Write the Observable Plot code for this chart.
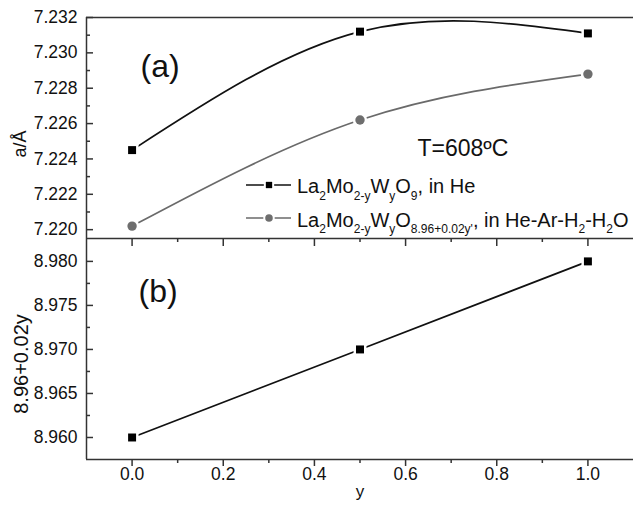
<!DOCTYPE html>
<html><head><meta charset="utf-8">
<script src="https://cdn.jsdelivr.net/npm/d3@7"></script>
<script src="https://cdn.jsdelivr.net/npm/@observablehq/plot@0.6"></script>
<style>
body{margin:0;background:#fff;}
#chart{position:relative;width:633px;height:508px;font-family:"Liberation Sans",Arial,sans-serif;}
#chart svg{position:absolute;left:0;overflow:visible;}
</style></head><body><div id="chart"></div>
<script>
// ---- data ----
const yComposition = [0.0, 0.5, 1.0];
const latticeHe = [7.2245, 7.2312, 7.2311];      // La2Mo2-yWyO9, in He
const latticeWet = [7.2202, 7.2262, 7.2288];     // La2Mo2-yWyO8.96+0.02y, in He-Ar-H2-H2O
const oxygenContent = [8.960, 8.970, 8.980];     // 8.96+0.02y
const xDomain = [-0.1, 1.1];
const aDomain = [7.2195, 7.232];
const bDomain = [8.9575, 8.9826];
const xTicks = [0.0, 0.2, 0.4, 0.6, 0.8, 1.0];
const xMinorTicks = [0.1, 0.3, 0.5, 0.7, 0.9];
const aTicks = [7.220, 7.222, 7.224, 7.226, 7.228, 7.230, 7.232];
const aMinorTicks = [7.221, 7.223, 7.225, 7.227, 7.229, 7.231];
const bTicks = [8.960, 8.965, 8.970, 8.975, 8.980];
const bMinorTicks = [8.9625, 8.9675, 8.9725, 8.9775];
const seriesNames = ["La2Mo2-yWyO9, in He", "La2Mo2-yWyO8.96+0.02y', in He-Ar-H2-H2O"];

const heRows = yComposition.map((x, i) => ({x, v: latticeHe[i]}));
const wetRows = yComposition.map((x, i) => ({x, v: latticeWet[i]}));
const oxRows = yComposition.map((x, i) => ({x, v: oxygenContent[i]}));

const FONT = '"Liberation Sans", Arial, sans-serif';
const AX = "#333";
const BLANK = () => "";

const chart = document.getElementById("chart");

// ---- panel (a) ----
const topPlot = Plot.plot({
  width: 633, height: 246,
  marginLeft: 86, marginRight: 0, marginTop: 17, marginBottom: 8,
  style: {fontFamily: FONT, fontSize: "17.5px", color: "#111", background: "transparent", overflow: "visible"},
  x: {domain: xDomain},
  y: {domain: aDomain},
  marks: [
    Plot.ruleY([aDomain[1]], {stroke: AX, strokeWidth: 1.5}),
    Plot.ruleY([aDomain[0]], {stroke: AX, strokeWidth: 1.5}),
    Plot.ruleX([xDomain[0]], {stroke: AX, strokeWidth: 1.5}),
    Plot.axisY(aTicks, {tickSize: 0, tickPadding: 9, tickFormat: d3.format(".3f"), label: null}),
    Plot.axisY(aTicks, {tickSize: -7, tickFormat: BLANK, label: null, stroke: AX, strokeWidth: 1.5}),
    Plot.axisY(aMinorTicks, {tickSize: -4, tickFormat: BLANK, label: null, stroke: AX, strokeWidth: 1.5}),
    Plot.axisX(xTicks, {tickSize: 8, tickFormat: BLANK, label: null, stroke: AX, strokeWidth: 1.5}),
    Plot.axisX(xMinorTicks, {tickSize: 4, tickFormat: BLANK, label: null, stroke: AX, strokeWidth: 1.5}),
    Plot.line(heRows, {x: "x", y: "v", curve: "natural", stroke: "#111", strokeWidth: 1.7}),
    Plot.line(wetRows, {x: "x", y: "v", curve: "natural", stroke: "#6a6a6a", strokeWidth: 1.7}),
    Plot.dot(heRows, {x: "x", y: "v", symbol: "square", r: 4.5, fill: "#000", stroke: "#fff", strokeWidth: 5, paintOrder: "stroke"}),
    Plot.dot(wetRows, {x: "x", y: "v", symbol: "circle", r: 4.7, fill: "#6e6e6e", stroke: "#fff", strokeWidth: 5, paintOrder: "stroke"}),
    Plot.text(["(a)"], {frameAnchor: "top-left", dx: 54, dy: 49, fontSize: 32, textAnchor: "start", lineAnchor: "middle", fill: "#111"}),
    Plot.text(["T=608ºC"], {frameAnchor: "top-left", dx: 331, dy: 131, fontSize: 23, textAnchor: "start", lineAnchor: "middle", fill: "#111"}),
    Plot.text(["a/Å"], {frameAnchor: "left", dx: -66, dy: 16, rotate: -90, fontSize: 18, textAnchor: "middle", lineAnchor: "middle", fill: "#111"})
  ]
});
topPlot.style.top = "0px";
chart.appendChild(topPlot);

// ---- panel (b) ----
const bottomPlot = Plot.plot({
  width: 633, height: 270,
  marginLeft: 86, marginRight: 0, marginTop: 0, marginBottom: 49,
  style: {fontFamily: FONT, fontSize: "17.5px", color: "#111", background: "transparent", overflow: "visible"},
  x: {domain: xDomain},
  y: {domain: bDomain},
  marks: [
    Plot.ruleY([bDomain[0]], {stroke: AX, strokeWidth: 1.5}),
    Plot.ruleX([xDomain[0]], {stroke: AX, strokeWidth: 1.5}),
    Plot.axisY(bTicks, {tickSize: 0, tickPadding: 9, tickFormat: d3.format(".3f"), label: null}),
    Plot.axisY(bTicks, {tickSize: -7, tickFormat: BLANK, label: null, stroke: AX, strokeWidth: 1.5}),
    Plot.axisY(bMinorTicks, {tickSize: -4, tickFormat: BLANK, label: null, stroke: AX, strokeWidth: 1.5}),
    Plot.axisX(xTicks, {tickSize: 7, tickPadding: 1, tickFormat: d3.format(".1f"), label: null, stroke: AX, strokeWidth: 1.5}),
    Plot.axisX(xMinorTicks, {tickSize: 4, tickFormat: BLANK, label: null, stroke: AX, strokeWidth: 1.5}),
    Plot.line(oxRows, {x: "x", y: "v", stroke: "#111", strokeWidth: 1.7}),
    Plot.dot(oxRows, {x: "x", y: "v", symbol: "square", r: 4.5, fill: "#000", stroke: "#fff", strokeWidth: 5, paintOrder: "stroke"}),
    Plot.text(["(b)"], {frameAnchor: "top-left", dx: 52, dy: 53, fontSize: 32, textAnchor: "start", lineAnchor: "middle", fill: "#111"}),
    Plot.text(["8.96+0.02y"], {frameAnchor: "left", dx: -65, dy: 15, rotate: -90, fontSize: 20, textAnchor: "middle", lineAnchor: "middle", fill: "#111"}),
    Plot.text(["y"], {frameAnchor: "bottom", dy: 32, fontSize: 17, textAnchor: "middle", lineAnchor: "middle", fill: "#111"})
  ]
});
bottomPlot.style.top = "238px";
chart.appendChild(bottomPlot);

// ---- legend (with subscripts) ----
const legendRows = [
  {name: seriesNames[0], color: "#111", mColor: "#000", symbol: d3.symbolSquare, y: 185, baseline: 193,
   parts: [["La",0],["2",1],["Mo",0],["2-y",1],["W",0],["y",1],["O",0],["9",1],[", in He",0]]},
  {name: seriesNames[1], color: "#6a6a6a", mColor: "#6e6e6e", symbol: d3.symbolCircle, y: 218, baseline: 226.5,
   parts: [["La",0],["2",1],["Mo",0],["2-y",1],["W",0],["y",1],["O",0],["8.96+0.02y'",1],[", in He-Ar-H",0],["2",1],["-H",0],["2",1],["O",0]]}
];
const leg = d3.select(chart).append("svg")
  .attr("width", 633).attr("height", 508)
  .style("top", "0px").style("pointer-events", "none");
for (const row of legendRows) {
  const g = leg.append("g").attr("aria-label", row.name);
  g.append("line").attr("x1", 246).attr("x2", 291).attr("y1", row.y).attr("y2", row.y)
    .attr("stroke", row.color).attr("stroke-width", 1.7);
  g.append("path").attr("transform", `translate(269,${row.y})`)
    .attr("d", d3.symbol(row.symbol, row.symbol === d3.symbolSquare ? 40 : 45)())
    .attr("fill", row.mColor).attr("stroke", "#fff").attr("stroke-width", 4).attr("paint-order", "stroke");
  const t = g.append("text").attr("x", 297).attr("y", row.baseline)
    .attr("font-family", FONT).attr("font-size", 20).attr("fill", "#111");
  let shifted = false;
  for (const [s, sub] of row.parts) {
    const ts = t.append("tspan").text(s);
    if (sub && !shifted) { ts.attr("dy", 6.5).attr("font-size", 12); shifted = true; }
    else if (sub) { ts.attr("font-size", 12); }
    else if (!sub && shifted) { ts.attr("dy", -6.5); shifted = false; }
  }
}
</script>
</body></html>
